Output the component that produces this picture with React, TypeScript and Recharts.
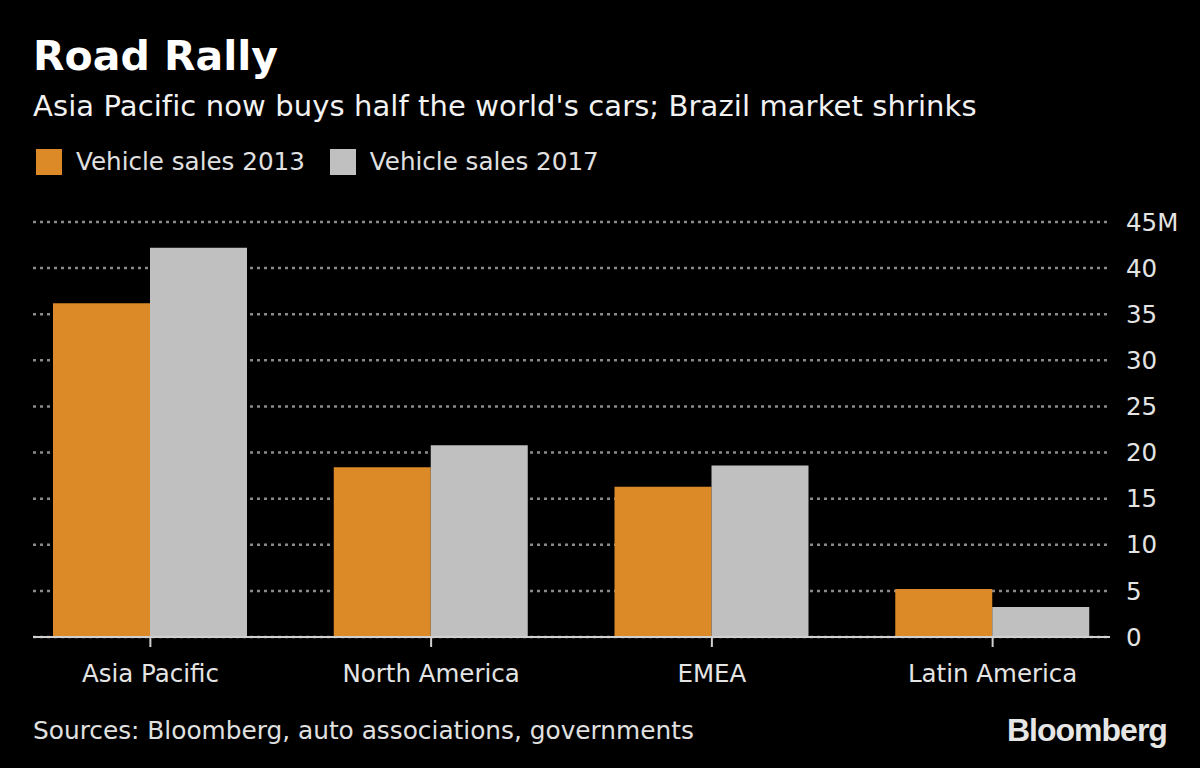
import { Bar, BarChart, CartesianGrid, XAxis, YAxis } from 'recharts'

const REGIONS = ['Asia Pacific', 'North America', 'EMEA', 'Latin America']
const SALES_2013 = [36.2, 18.4, 16.3, 5.2]
const SALES_2017 = [42.2, 20.8, 18.6, 3.25]
const Y_TICKS = [0, 5, 10, 15, 20, 25, 30, 35, 40, 45]

const ORANGE = '#dc8a28'
const GREY = '#c0c0c0'
const FONT = '"DejaVu Sans", sans-serif'

const data = REGIONS.map((region, i) => ({
  region,
  s2013: SALES_2013[i],
  s2017: SALES_2017[i],
}))

function LegendItem({ color, label }: { color: string; label: string }) {
  return (
    <div style={{ display: 'flex', alignItems: 'center', marginRight: 25 }}>
      <div style={{ width: 26, height: 26, background: color, marginRight: 14 }} />
      <span>{label}</span>
    </div>
  )
}

export default function App() {
  return (
    <div
      style={{
        position: 'fixed',
        left: 0,
        top: 0,
        width: 1200,
        height: 768,
        background: '#000',
        fontFamily: FONT,
        color: '#e8e8e8',
        overflow: 'hidden',
      }}
    >
      <div
        style={{
          position: 'absolute',
          left: 33,
          top: 32,
          fontSize: 41,
          fontWeight: 'bold',
          color: '#fff',
        }}
      >
        Road Rally
      </div>
      <div
        style={{
          position: 'absolute',
          left: 33,
          top: 89,
          fontSize: 29,
          letterSpacing: 0.1,
          color: '#f2f2f2',
        }}
      >
        Asia Pacific now buys half the world's cars; Brazil market shrinks
      </div>
      <div
        style={{
          position: 'absolute',
          left: 36,
          top: 147,
          fontSize: 24.6,
          display: 'flex',
          color: '#e0e0e0',
        }}
      >
        <LegendItem color={ORANGE} label="Vehicle sales 2013" />
        <LegendItem color={GREY} label="Vehicle sales 2017" />
      </div>

      <div style={{ position: 'absolute', left: 0, top: 0 }}>
        <BarChart
          width={1200}
          height={700}
          data={data}
          margin={{ top: 222, right: 0, bottom: 3, left: 33 }}
          barCategoryGap={43}
          barGap={0}
        >
          <CartesianGrid
            vertical={false}
            stroke="#8a8a8a"
            strokeWidth={2.5}
            strokeDasharray="3 4"
          />
          <XAxis
            dataKey="region"
            padding={{ left: -23, right: -23 }}
            height={60}
            axisLine={{ stroke: '#d0d0d0', strokeWidth: 2 }}
            tickLine={{ stroke: '#d0d0d0', strokeWidth: 2 }}
            tickSize={10}
            tickMargin={18}
            tick={{ fill: '#e4e4e4', fontSize: 24.5, fontFamily: FONT }}
          />
          <YAxis
            orientation="right"
            width={90}
            domain={[0, 45]}
            ticks={Y_TICKS}
            axisLine={false}
            tickLine={false}
            tickSize={0}
            tickMargin={16}
            tick={{ fill: '#e4e4e4', fontSize: 24.5, fontFamily: FONT, textAnchor: 'start' }}
            tickFormatter={(v: number) => (v === 45 ? '45M' : String(v))}
          />
          <Bar dataKey="s2013" fill={ORANGE} isAnimationActive={false} />
          <Bar dataKey="s2017" fill={GREY} isAnimationActive={false} />
        </BarChart>
      </div>

      <div style={{ position: 'absolute', left: 33, top: 716, fontSize: 24.8, color: '#e0e0e0' }}>
        Sources: Bloomberg, auto associations, governments
      </div>
      <div
        style={{
          position: 'absolute',
          left: 1007,
          top: 712,
          fontSize: 32,
          fontWeight: 'bold',
          letterSpacing: -1,
          fontFamily: '"Liberation Sans", Arial, sans-serif',
          color: '#e6e6e6',
        }}
      >
        Bloomberg
      </div>
    </div>
  )
}
